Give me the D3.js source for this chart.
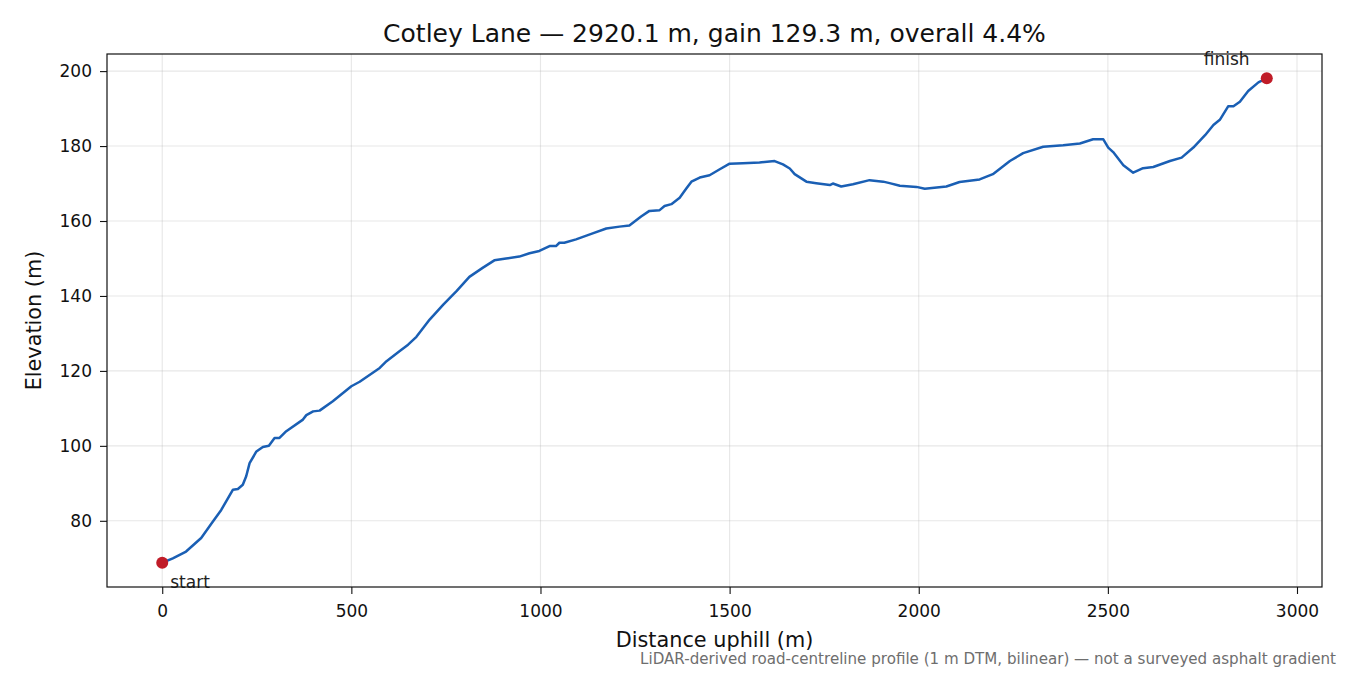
<!DOCTYPE html>
<html>
<head>
<meta charset="utf-8">
<script src="https://cdn.jsdelivr.net/npm/d3@7"></script>
<style>
  html, body { margin: 0; padding: 0; background: #fff; }
  svg { display: block; font-family: 'DejaVu Sans', sans-serif; }
</style>
</head>
<body>
<div id="chart"></div>
<script>
// profile, distance (m) vs elevation (m)
const distances = [0, 28, 63, 103, 134, 156, 187, 200, 213, 222, 231, 249, 266, 282, 297, 310, 328,
  372, 381, 399, 416, 451, 500, 522, 575, 593, 628, 650, 672, 707, 743, 778, 812, 847, 878, 909,
  944, 971, 997, 1024, 1041, 1050, 1063, 1094, 1138, 1174, 1209, 1235, 1266, 1288, 1315, 1328,
  1346, 1368, 1385, 1399, 1421, 1447, 1474, 1500, 1535, 1579, 1619, 1641, 1659, 1672, 1703, 1729,
  1765, 1773, 1795, 1826, 1870, 1906, 1923, 1950, 1994, 2016, 2073, 2108, 2161, 2196, 2241, 2276,
  2329, 2382, 2426, 2461, 2488, 2501, 2514, 2541, 2567, 2593, 2620, 2664, 2695, 2726, 2757, 2779,
  2796, 2818, 2832, 2849, 2871, 2898, 2920.1];
const elevations = [68.8, 70.0, 71.8, 75.4, 79.8, 82.9, 88.3, 88.5, 89.6, 91.9, 95.4, 98.5, 99.7,
  100.0, 102.1, 102.1, 103.9, 107.0, 108.2, 109.2, 109.4, 111.9, 115.9, 117.1, 120.8, 122.6,
  125.3, 127.0, 129.1, 133.7, 137.7, 141.3, 145.1, 147.5, 149.5, 150.0, 150.5, 151.4, 152.0,
  153.3, 153.3, 154.2, 154.2, 155.1, 156.7, 158.0, 158.5, 158.8, 161.2, 162.7, 162.9, 164.0,
  164.5, 166.2, 168.6, 170.5, 171.6, 172.2, 173.8, 175.3, 175.4, 175.6, 176.0, 175.1, 174.0,
  172.5, 170.5, 170.1, 169.6, 170.0, 169.2, 169.8, 170.9, 170.5, 170.1, 169.4, 169.1, 168.6,
  169.2, 170.4, 171.1, 172.5, 176.0, 178.1, 179.8, 180.2, 180.7, 181.8, 181.8, 179.6, 178.4,
  174.9, 172.9, 174.1, 174.4, 176.0, 176.9, 179.6, 182.9, 185.6, 187.0, 190.6, 190.6, 191.8,
  194.7, 197.0, 198.1];
const xTicks = [0, 500, 1000, 1500, 2000, 2500, 3000];
const yTicks = [80, 100, 120, 140, 160, 180, 200];

const W = 1350, H = 675;
const m = { left: 107, right: 1322, top: 54, bottom: 587 };
const lineColor = '#1a5fb4';
const dotColor = '#c01c28';

const svg = d3.select('#chart').append('svg')
  .attr('width', W).attr('height', H);

const profile = distances.map((d, i) => ({ d, e: elevations[i] }));

// matplotlib-style 5% padding around the data
const xMin = d3.min(distances), xMax = d3.max(distances);
const yMin = d3.min(elevations), yMax = d3.max(elevations);
const xPad = (xMax - xMin) * 0.05, yPad = (yMax - yMin) * 0.05;

const x = d3.scaleLinear().domain([xMin - xPad, xMax + xPad]).range([m.left, m.right]);
const y = d3.scaleLinear().domain([yMin - yPad, yMax + yPad]).range([m.bottom, m.top]);

// ─── Grid ───
const grid = svg.append('g').attr('stroke', '#b0b0b0').attr('stroke-opacity', 0.3).attr('stroke-width', 1.1);
xTicks.forEach(t => grid.append('line')
  .attr('x1', x(t)).attr('x2', x(t)).attr('y1', m.top).attr('y2', m.bottom));
yTicks.forEach(t => grid.append('line')
  .attr('x1', m.left).attr('x2', m.right).attr('y1', y(t)).attr('y2', y(t)));

// ─── Profile line ───
const line = d3.line().x(p => x(p.d)).y(p => y(p.e));
svg.append('path')
  .datum(profile)
  .attr('d', line)
  .attr('fill', 'none')
  .attr('stroke', lineColor)
  .attr('stroke-width', 2.5)
  .attr('stroke-linejoin', 'round')
  .attr('stroke-linecap', 'round');

// ─── Endpoints ───
const first = profile[0], last = profile[profile.length - 1];
[first, last].forEach(p => svg.append('circle')
  .attr('cx', x(p.d)).attr('cy', y(p.e)).attr('r', 6).attr('fill', dotColor));

svg.append('text')
  .attr('x', x(first.d) + 8).attr('y', y(first.e) + 25)
  .attr('font-size', '17px').attr('fill', '#222')
  .text('start');
svg.append('text')
  .attr('x', x(last.d) - 63).attr('y', y(last.e) - 13)
  .attr('font-size', '17px').attr('fill', '#222')
  .text('finish');

// ─── Axes ───
const xAxis = svg.append('g')
  .attr('transform', `translate(0,${m.bottom})`)
  .call(d3.axisBottom(x).tickValues(xTicks).tickFormat(d3.format('d')).tickSize(7).tickPadding(11));
const yAxis = svg.append('g')
  .attr('transform', `translate(${m.left},0)`)
  .call(d3.axisLeft(y).tickValues(yTicks).tickFormat(d3.format('d')).tickSize(7).tickPadding(8));

[xAxis, yAxis].forEach(a => {
  a.select('.domain').remove();
  a.selectAll('.tick line').attr('stroke', '#111').attr('stroke-width', 1.1);
  a.selectAll('.tick text').attr('font-size', '17px').attr('fill', '#111')
    .attr('font-family', "'DejaVu Sans', sans-serif");
});

// frame
svg.append('rect')
  .attr('x', m.left).attr('y', m.top)
  .attr('width', m.right - m.left).attr('height', m.bottom - m.top)
  .attr('fill', 'none').attr('stroke', '#111').attr('stroke-width', 1.2);

// ─── Labels ───
svg.append('text')
  .attr('x', (m.left + m.right) / 2).attr('y', 42)
  .attr('text-anchor', 'middle').attr('font-size', '25px').attr('fill', '#111')
  .text('Cotley Lane — 2920.1 m, gain 129.3 m, overall 4.4%');

svg.append('text')
  .attr('x', (m.left + m.right) / 2).attr('y', 647)
  .attr('text-anchor', 'middle').attr('font-size', '20.8px').attr('fill', '#111')
  .text('Distance uphill (m)');

svg.append('text')
  .attr('transform', `translate(41,${(m.top + m.bottom) / 2}) rotate(-90)`)
  .attr('text-anchor', 'middle').attr('font-size', '20.8px').attr('fill', '#111')
  .text('Elevation (m)');

svg.append('text')
  .attr('x', 1336).attr('y', 664)
  .attr('text-anchor', 'end').attr('font-size', '15.1px').attr('fill', '#6e6e6e')
  .text('LiDAR-derived road-centreline profile (1 m DTM, bilinear) — not a surveyed asphalt gradient');
</script>
</body>
</html>
